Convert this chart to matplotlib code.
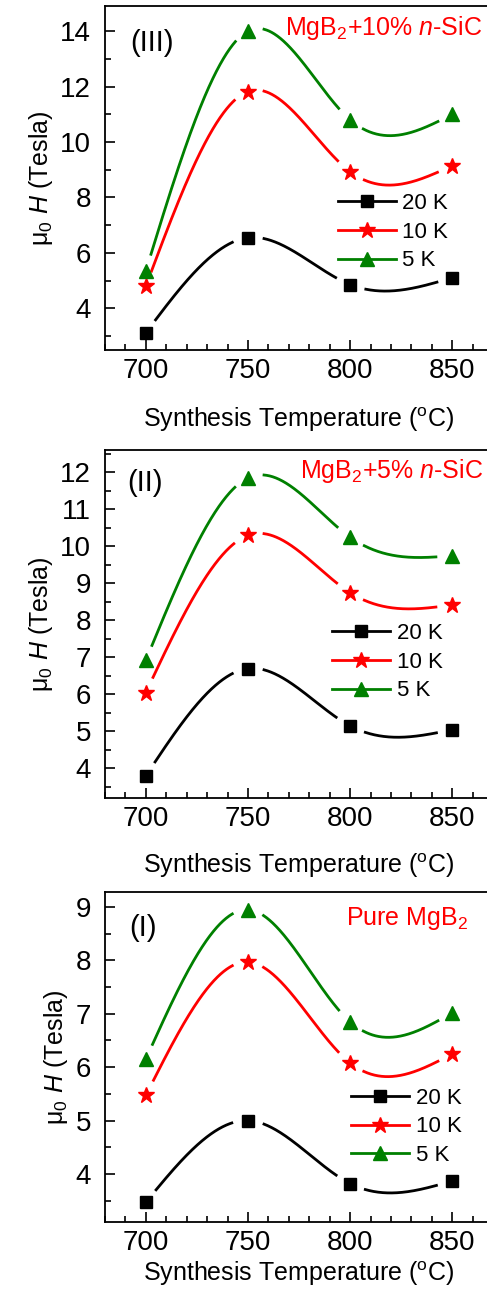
import numpy as np
import matplotlib
matplotlib.use("Agg")
import matplotlib.pyplot as plt
from matplotlib.ticker import MultipleLocator

plt.rcParams['font.family'] = ['Liberation Sans', 'DejaVu Sans']
plt.rcParams['mathtext.fontset'] = 'custom'
plt.rcParams['mathtext.rm'] = 'Liberation Sans'
plt.rcParams['mathtext.it'] = 'Liberation Sans:italic'

# Temperatures de synthese (°C)
temps = [700, 750, 800, 850]
temp_labels = ["20 K", "10 K", "5 K"]

# Panel III : MgB2 + 10% n-SiC
h_sic10_20K = [3.12, 6.55, 4.86, 5.11]
h_sic10_10K = [4.80, 11.82, 8.93, 9.15]
h_sic10_5K = [5.35, 14.00, 10.80, 11.00]

# Panel II : MgB2 + 5% n-SiC
h_sic5_20K = [3.80, 6.70, 5.15, 5.05]
h_sic5_10K = [6.05, 10.30, 8.75, 8.42]
h_sic5_5K = [6.92, 11.85, 10.25, 9.75]

# Panel I : MgB2 pur
h_pure_20K = [3.47, 5.00, 3.82, 3.87]
h_pure_10K = [5.47, 7.97, 6.08, 6.25]
h_pure_5K = [6.15, 8.95, 6.85, 7.02]

colors = ["black", "red", "green"]
markers = ["s", "*", "^"]
msizes = [8, 12, 10]


def natural_spline(x, y, xs):
    # spline cubique naturelle (pas de scipy)
    x = np.asarray(x, float)
    y = np.asarray(y, float)
    n = len(x)
    h = np.diff(x)
    A = np.zeros((n, n))
    b = np.zeros(n)
    A[0, 0] = 1
    A[-1, -1] = 1
    for i in range(1, n - 1):
        A[i, i - 1] = h[i - 1]
        A[i, i] = 2 * (h[i - 1] + h[i])
        A[i, i + 1] = h[i]
        b[i] = 6 * ((y[i + 1] - y[i]) / h[i] - (y[i] - y[i - 1]) / h[i - 1])
    M = np.linalg.solve(A, b)
    idx = np.clip(np.searchsorted(x, xs) - 1, 0, n - 2)
    x0, x1 = x[idx], x[idx + 1]
    hh = x1 - x0
    t0 = x1 - xs
    t1 = xs - x0
    return (M[idx] * t0**3 / (6 * hh) + M[idx + 1] * t1**3 / (6 * hh)
            + (y[idx] / hh - M[idx] * hh / 6) * t0
            + (y[idx + 1] / hh - M[idx + 1] * hh / 6) * t1)


def draw_panel(ax, series, ylim, major, minor, tag, tag_pos, note, note_pos, leg_anchor):
    ax.set_xlim(680, 870)
    ax.set_ylim(*ylim)
    xs = np.linspace(temps[0], temps[-1], 600)
    for vals, c, m, ms, lab in zip(series, colors, markers, msizes, temp_labels):
        ys = natural_spline(temps, vals, xs)
        # trou autour des symboles (style Origin)
        disp = ax.transData.transform(np.column_stack([xs, ys]))
        pts = ax.transData.transform(np.column_stack([temps, vals]))
        mask = np.zeros(len(xs), bool)
        for p in pts:
            mask |= np.hypot(disp[:, 0] - p[0], disp[:, 1] - p[1]) < 16
        ys = np.where(mask, np.nan, ys)
        ax.plot(xs, ys, color=c, lw=2.0)
        ax.plot(temps, vals, linestyle="none", marker=m, color=c, ms=ms)
        ax.plot([], [], color=c, lw=2.0, marker=m, ms=ms, label=lab)

    ax.xaxis.set_major_locator(MultipleLocator(50))
    ax.xaxis.set_minor_locator(MultipleLocator(10))
    ax.yaxis.set_major_locator(MultipleLocator(major))
    ax.yaxis.set_minor_locator(MultipleLocator(minor))
    ax.tick_params(which="both", direction="in", top=False, right=False, width=1.2)
    ax.tick_params(which="major", length=7, labelsize=20)
    ax.tick_params(axis="x", which="major", pad=6)
    ax.tick_params(axis="y", which="major", pad=10)
    ax.tick_params(which="minor", length=4)
    for s in ax.spines.values():
        s.set_linewidth(1.3)

    ax.set_ylabel(r"μ$_0$ $\it{H}$ (Tesla)", fontsize=18, labelpad=4)
    ax.text(tag_pos[0], tag_pos[1], tag, transform=ax.transAxes, fontsize=21, va="center")
    ax.text(note_pos[0], note_pos[1], note, transform=ax.transAxes, fontsize=18,
            color="red", ha="right", va="baseline")
    ax.legend(loc="center left", bbox_to_anchor=leg_anchor, frameon=False,
              fontsize=16, handlelength=2.6, handletextpad=0.3,
              labelspacing=0.35, borderpad=0, borderaxespad=0)


fig = plt.figure(figsize=(4.87, 12.93), dpi=100)
left, width = 0.2156, 0.797
ax3 = fig.add_axes([left, 0.7293, width, 0.266])
ax2 = fig.add_axes([left, 0.3828, width, 0.269])
ax1 = fig.add_axes([left, 0.0549, width, 0.2552])

draw_panel(ax3, [h_sic10_20K, h_sic10_10K, h_sic10_5K], (2.5, 14.9), 2, 1,
           "(III)", (0.064, 0.892), r"MgB$_2$+10% $\it{n}$-SiC", (0.972, 0.916),
           (0.60, 0.343))
draw_panel(ax2, [h_sic5_20K, h_sic5_10K, h_sic5_5K], (3.2, 12.6), 1, 0.5,
           "(II)", (0.057, 0.905), r"MgB$_2$+5% $\it{n}$-SiC", (0.974, 0.920),
           (0.585, 0.391))
draw_panel(ax1, [h_pure_20K, h_pure_10K, h_pure_5K], (3.1, 9.28), 1, 0.5,
           "(I)", (0.062, 0.891), r"Pure MgB$_2$", (0.936, 0.900),
           (0.634, 0.288))

xlab = r"Synthesis Temperature ($^{\mathrm{o}}$C)"
ax3.set_xlabel(xlab, fontsize=18, labelpad=15)
ax2.set_xlabel(xlab, fontsize=18, labelpad=14)
ax1.set_xlabel(xlab, fontsize=18, labelpad=2)

fig.savefig("out.png", dpi=100)
